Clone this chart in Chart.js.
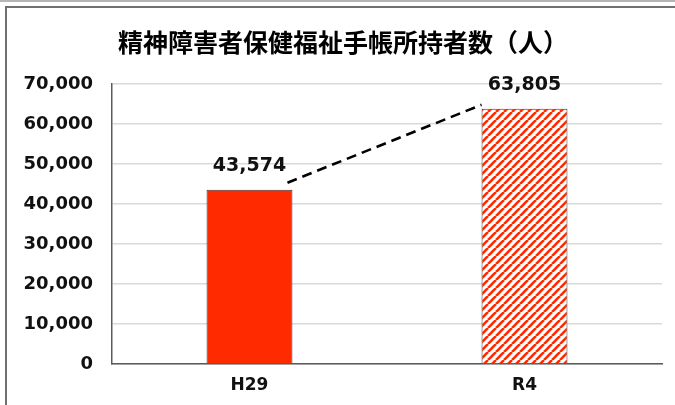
<!DOCTYPE html>
<html>
<head>
<meta charset="utf-8">
<script src="https://cdn.jsdelivr.net/npm/chart.js@4"></script>
<style>
  html, body { margin: 0; padding: 0; background: #fff; }
  #wrap { position: relative; width: 675px; height: 405px; overflow: hidden; }
  #topline { position: absolute; left: 0; top: 0; width: 675px; height: 2px; background: #b5b5b5; }
  #frame { position: absolute; left: 5px; top: 6px; width: 700px; height: 420px;
           border-left: 2px solid #707070; border-top: 2px solid #707070; }
  canvas { position: absolute; left: 0; top: 0; }
</style>
</head>
<body>
<div id="wrap">
  <div id="topline"></div>
  <div id="frame"></div>
  <canvas id="c" width="675" height="405"></canvas>
</div>
<script>
// データ
const years = ['H29', 'R4'];
const holders = [43574, 63805];
const yTicks = [0, 10000, 20000, 30000, 40000, 50000, 60000, 70000];

const numFont = 'DejaVu Sans';

// 斜線パターン（R4）
function hatch() {
  const s = 8;
  const p = document.createElement('canvas');
  p.width = s; p.height = s;
  const g = p.getContext('2d');
  g.fillStyle = '#fff';
  g.fillRect(0, 0, s, s);
  g.strokeStyle = '#ff2a00';
  g.lineWidth = 2.6;
  for (const o of [-s, 0, s]) {
    g.beginPath();
    g.moveTo(o, s);
    g.lineTo(o + s, 0);
    g.stroke();
  }
  return g.createPattern(p, 'repeat');
}

// 値ラベルと破線
const extras = {
  id: 'extras',
  afterDatasetsDraw(chart) {
    const ctx = chart.ctx;
    const bars = chart.getDatasetMeta(0).data;
    const a = bars[0], b = bars[1];
    ctx.save();
    ctx.strokeStyle = '#000';
    ctx.lineWidth = 2.6;
    ctx.setLineDash([10, 6]);
    ctx.beginPath();
    ctx.moveTo(a.x + a.width / 2 - 5, a.y - 7);
    ctx.lineTo(b.x - b.width / 2, b.y - 4);
    ctx.stroke();
    ctx.setLineDash([]);
    ctx.fillStyle = '#111';
    ctx.font = 'bold 19px "' + numFont + '"';
    ctx.textAlign = 'center';
    ctx.textBaseline = 'middle';
    bars.forEach((bar, i) => {
      ctx.fillText(holders[i].toLocaleString('en-US'), bar.x, bar.y - 24);
    });
    ctx.restore();
  }
};

new Chart(document.getElementById('c'), {
  type: 'bar',
  data: {
    labels: years,
    datasets: [{
      data: holders,
      backgroundColor: ['#ff2a00', hatch()],
      borderColor: '#3a3a3a',
      borderWidth: 1,
      barPercentage: 0.625,
      categoryPercentage: 0.5
    }]
  },
  options: {
    responsive: false,
    animation: false,
    layout: { padding: { left: 24, right: 13, top: 0, bottom: 0 } },
    plugins: {
      legend: { display: false },
      tooltip: { enabled: false },
      title: {
        display: true,
        text: '精神障害者保健福祉手帳所持者数（人）',
        color: '#000',
        font: { family: 'Noto Sans CJK JP', size: 25, weight: 'bold' },
        padding: { top: 27, bottom: 27 }
      }
    },
    scales: {
      x: {
        grid: { display: false },
        border: { display: true, color: '#5a5a5a', width: 1.5 },
        ticks: {
          color: '#111',
          font: { family: numFont, size: 17, weight: 'bold' },
          padding: 3
        },
        afterFit(scale) { scale.height = 41; }
      },
      y: {
        min: 0,
        max: 70000,
        afterBuildTicks(scale) { scale.ticks = yTicks.map(v => ({ value: v })); },
        grid: { color: '#d9d9d9', lineWidth: 1.5, drawTicks: false },
        border: { display: true, color: '#5a5a5a', width: 1.5 },
        ticks: {
          color: '#111',
          padding: 19,
          font: { family: numFont, size: 18, weight: 'bold' },
          callback: v => v.toLocaleString('en-US')
        },
        afterFit(scale) { scale.width = 88; }
      }
    }
  },
  plugins: [extras]
});
</script>
</body>
</html>
